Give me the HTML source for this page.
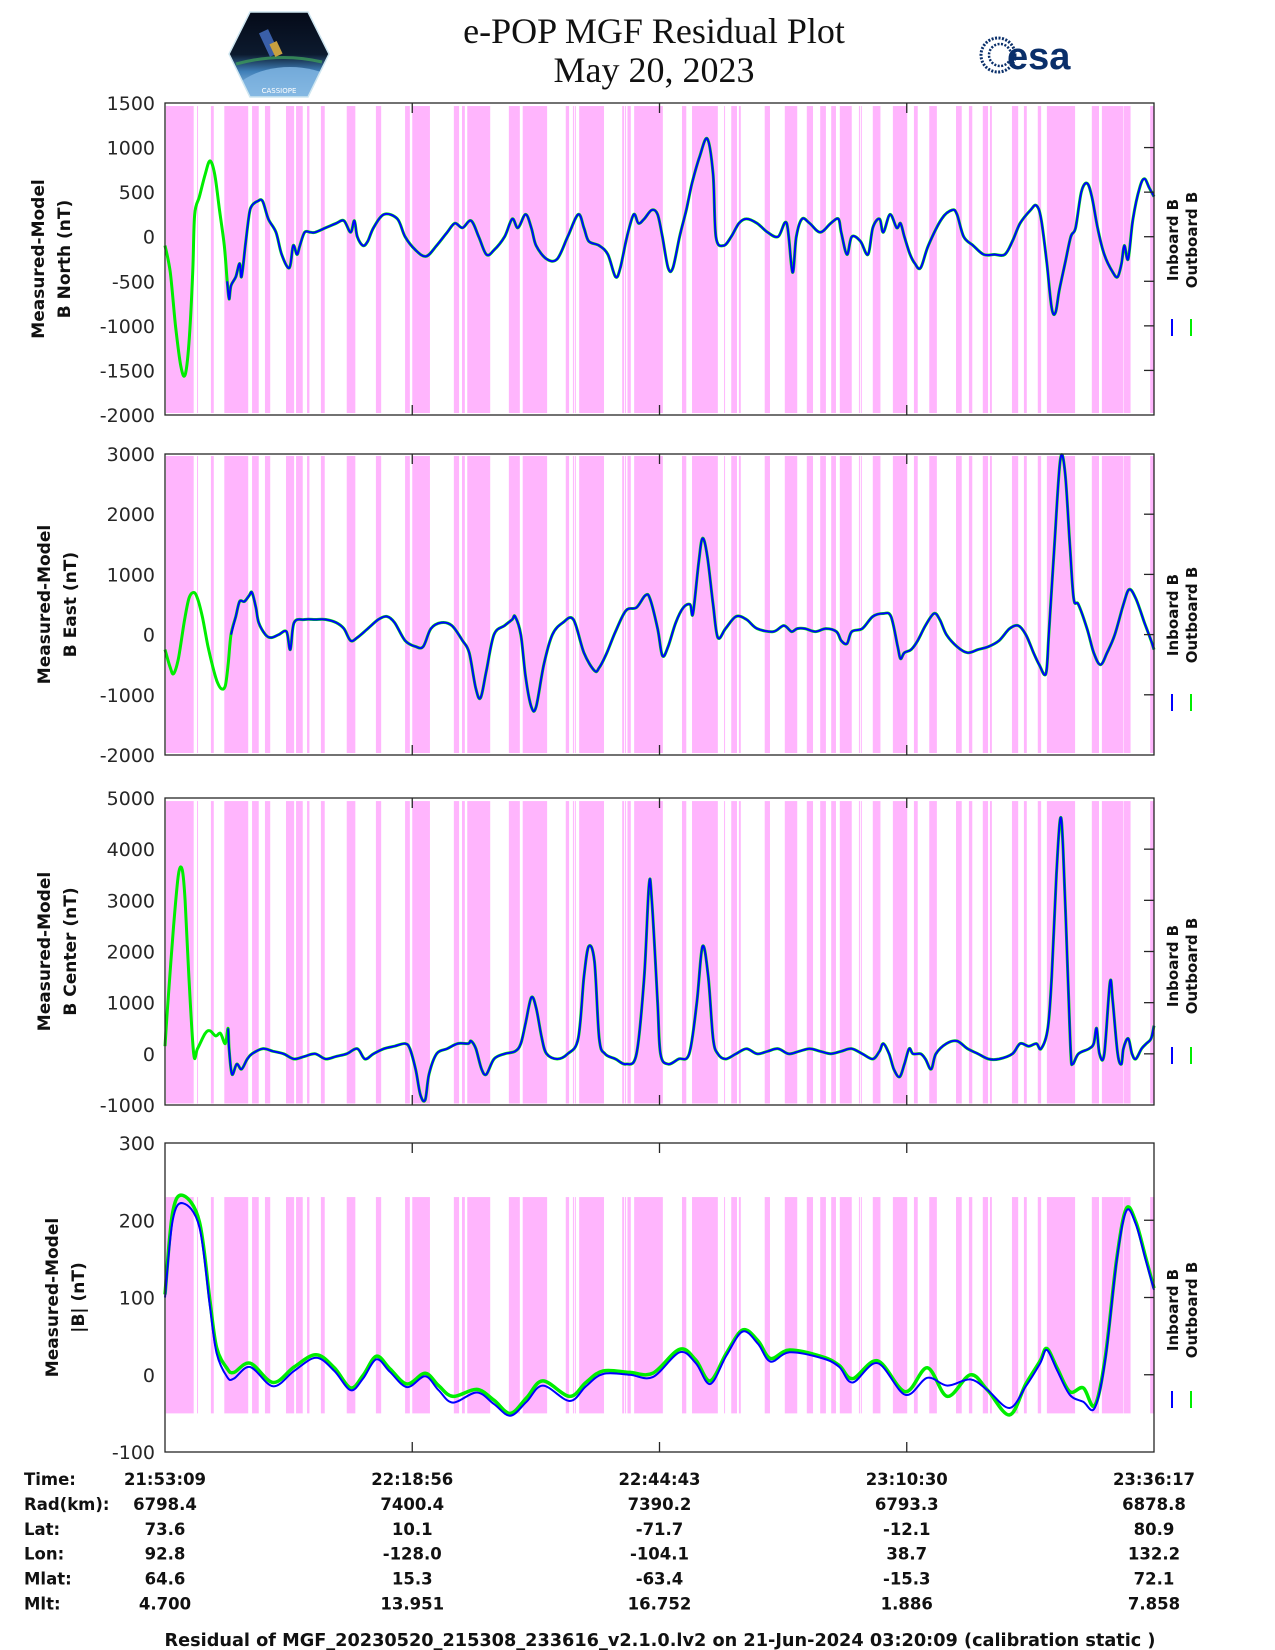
<!DOCTYPE html>
<html><head><meta charset="utf-8"><title>e-POP MGF Residual Plot</title>
<style>
html,body{margin:0;padding:0;background:#fff;}
svg{display:block;}
text{font-family:"DejaVu Sans","Liberation Sans",sans-serif;}
</style></head>
<body>
<svg id="chart" width="1275" height="1650" viewBox="0 0 1275 1650" xmlns="http://www.w3.org/2000/svg">
  <g>
    <g>
      <defs>
        <linearGradient id="sky" x1="0" y1="0" x2="0" y2="1">
          <stop offset="0" stop-color="#050a18"/><stop offset="0.5" stop-color="#0c1a2e"/><stop offset="0.7" stop-color="#3f7fb8"/><stop offset="1" stop-color="#a8d0ee"/>
        </linearGradient>
        <clipPath id="hexclip"><polygon points="250,12 308,12 329,54 308,97 250,97 229,54"/></clipPath>
      </defs>
      <g clip-path="url(#hexclip)">
        <rect x="229" y="12" width="100" height="85" fill="url(#sky)"/>
        <ellipse cx="290" cy="105" rx="62" ry="38" fill="#7fb4e0" opacity="0.85"/>
        <path d="M236,64 Q280,52 322,62" stroke="#3c9a5a" stroke-width="3" fill="none" opacity="0.8"/>
        <rect x="264" y="30" width="10" height="26" fill="#3a5fa8" transform="rotate(-25 269 43)"/>
        <rect x="272" y="42" width="8" height="14" fill="#c8a040" transform="rotate(-25 276 49)"/>
      </g>
      <polygon points="250,12 308,12 329,54 308,97 250,97 229,54" fill="none" stroke="#cfe6f0" stroke-width="1.5"/>
      <text x="279" y="93" font-size="7" fill="#fff" text-anchor="middle">CASSIOPE</text>
    </g>
    <text x="654" y="43" font-size="36" text-anchor="middle" style="font-family:'Liberation Serif',serif" fill="#111">e-POP MGF Residual Plot</text>
    <text x="654" y="82" font-size="36" text-anchor="middle" style="font-family:'Liberation Serif',serif" fill="#111">May 20, 2023</text>
    <g>
      <circle cx="998" cy="55" r="17" fill="none" stroke="#0a2f6a" stroke-width="3" stroke-dasharray="2 1.5"/>
      <circle cx="1000" cy="55" r="11" fill="none" stroke="#0a2f6a" stroke-width="2.5" stroke-dasharray="2 1.5"/>
      <text x="1007" y="69" font-size="38" font-weight="bold" fill="#0a2f6a" style="font-family:'Liberation Sans',sans-serif">esa</text>
    </g>
  </g>
  <g id="panels"></g>
  <g id="footer-info"></g>
</svg>
<script>
// ---- data (time in minutes since 21:53:08) ----
const tickLabels = ["21:53:09","22:18:56","22:44:43","23:10:30","23:36:17"];
const tickMinutes = [0, 25.85, 51.7, 77.55, 103.4];
const radValues = ["6798.4","7400.4","7390.2","6793.3","6878.8"];
const latValues = ["73.6","10.1","-71.7","-12.1","80.9"];
const lonValues = ["92.8","-128.0","-104.1","38.7","132.2"];
const mlatValues = ["64.6","15.3","-63.4","-15.3","72.1"];
const mltValues = ["4.700","13.951","16.752","1.886","7.858"];

const bandStart = [0.1,3.35,4.8,6.2,9.1,10.45,12.65,13.7,14.85,16.3,19.0,22.05,25.1,25.85,30.2,31.05,31.6,35.95,37.4,41.9,42.65,42.85,43.3,47.8,48.1,48.35,49.05,54.05,55.1,58.45,59.2,60.0,62.7,64.8,67.1,68.5,69.65,70.55,72.55,72.75,74.0,76.1,78.3,79.9,82.7,84.05,85.5,86.25,88.55,89.8,91.25,92.2,96.9,97.95,100.25,103.0];
const bandEnd   = [3.0,3.45,5.1,8.7,9.8,11.0,13.5,14.4,15.1,16.7,19.9,22.6,25.6,27.7,30.75,31.35,34.0,37.1,39.95,42.25,42.75,42.95,45.9,48.0,48.2,48.7,52.05,54.5,57.8,58.55,59.8,60.2,63.25,66.1,67.75,69.1,70.15,71.8,72.65,72.85,74.8,77.6,78.7,80.7,83.3,84.4,86.05,86.45,89.2,90.1,91.6,95.15,97.65,100.2,100.95,103.4];

const tNorth = [0,.55,1.1,1.65,2.1,2.5,2.9,3.1,3.6,4.2,4.7,5.2,5.7,6.2,6.5,6.7,6.9,7.4,7.8,8.0,8.4,8.8,9.1,9.7,10.2,10.8,11.6,12.2,13.0,13.4,13.8,14.1,14.6,15.2,15.7,16.8,17.9,18.7,19.4,19.8,20.1,20.7,21.2,21.8,22.9,24.3,25.1,26.2,27.3,28.4,29.5,30.3,31.1,32.0,32.8,33.6,34.4,35.5,36.3,36.9,37.7,38.3,38.8,39.9,41.0,42.1,43.2,43.8,44.3,45.4,46.3,47.1,47.6,48.3,49.0,49.5,50.1,50.9,51.5,52.0,52.6,53.1,53.8,54.5,55.1,55.9,56.7,57.3,57.6,58.4,59.2,60.0,60.8,61.9,63.0,64.1,65.0,65.6,66.0,66.6,67.4,68.5,69.6,70.4,70.7,71.3,71.8,72.7,73.5,74.0,74.7,75.1,75.8,76.5,76.9,77.3,77.9,78.4,79.0,79.8,81.2,82.3,82.8,83.5,84.5,85.6,86.7,87.8,88.6,89.4,90.5,91.1,91.6,92.2,92.7,93.1,93.5,94.1,94.7,95.2,95.8,96.4,96.9,97.5,98.2,99.1,99.6,100.0,100.3,100.7,101.2,101.9,102.4,102.9,103.4];
const inboardNorth = [-100,-400,-1000,-1450,-1550,-1200,-400,250,450,700,850,700,300,-100,-500,-700,-550,-450,-300,-450,-100,250,350,400,400,200,50,-200,-350,-100,-200,-100,50,50,50,100,150,180,50,180,0,-100,-50,100,250,200,0,-150,-220,-100,50,150,100,180,0,-200,-150,0,200,100,250,100,-100,-250,-250,0,250,100,-50,-100,-200,-450,-350,0,250,150,200,300,250,0,-350,-350,0,300,600,900,1100,700,0,-100,0,150,200,150,50,0,150,-400,0,200,150,50,150,200,50,-200,0,-50,-200,100,200,50,250,100,150,0,-200,-300,-350,-100,200,300,250,0,-100,-200,-200,-200,-50,150,300,350,200,-300,-800,-850,-600,-300,0,100,500,600,450,100,-200,-400,-450,-300,-100,-250,200,550,650,550,450];
const outboardNorth = inboardNorth;

const tEast = [0,.55,.9,1.4,2.0,2.5,3.0,3.4,3.9,4.5,5.1,5.5,5.9,6.3,6.6,6.9,7.4,7.8,8.3,8.8,9.1,9.5,9.8,10.5,11.1,11.9,12.7,13.1,13.5,14.6,15.7,16.8,17.9,18.7,19.4,20.1,21.2,22.3,23.2,24.0,25.1,26.2,27.0,27.8,28.9,30.0,31.1,31.8,32.5,33.0,33.6,34.4,35.5,36.3,36.6,37.2,37.7,38.3,38.8,39.6,40.5,41.6,42.7,43.8,44.9,45.4,46.2,47.1,48.2,49.3,50.2,50.7,51.5,52.0,52.6,53.4,54.2,54.9,55.2,55.8,56.2,56.7,57.3,57.8,58.6,59.7,60.8,61.9,63.6,64.7,65.5,66.1,66.9,68.0,69.1,70.2,70.7,71.3,71.8,72.9,74.0,75.1,75.9,76.6,76.9,77.3,78.0,78.7,79.5,80.4,81.0,81.7,82.8,83.9,85.0,86.1,87.2,88.3,89.2,90.0,90.8,91.4,92.1,92.4,93.0,93.6,94.1,94.6,95.0,95.5,96.4,97.1,97.8,98.5,99.3,100.2,100.8,101.5,102.4,103.1,103.4];
const inboardEast = [-250,-550,-650,-400,200,600,700,600,300,-200,-600,-800,-900,-850,-500,0,300,550,550,650,700,450,200,0,-50,0,50,-250,200,250,250,250,200,100,-100,-50,100,250,300,200,-100,-200,-200,100,200,150,-100,-300,-900,-1050,-600,0,150,250,300,0,-700,-1200,-1200,-500,0,200,250,-300,-600,-550,-300,50,400,450,650,600,100,-350,-200,200,450,500,350,1200,1600,1300,500,-50,100,300,250,100,50,150,50,100,100,50,100,50,-100,-150,50,100,300,350,300,-200,-400,-300,-250,-100,150,350,250,0,-200,-300,-250,-200,-100,100,150,0,-300,-500,-650,0,1500,2900,2700,1500,600,500,100,-300,-500,-300,0,500,750,600,200,-100,-250];
const outboardEast = inboardEast;

const tCenter = [0,.3,.9,1.4,1.8,2.1,2.5,3.0,3.4,4.2,4.7,5.3,5.8,6.3,6.6,6.7,7.0,7.5,8.0,8.6,9.1,10.2,11.3,12.4,13.5,14.6,15.7,16.8,17.9,19.0,20.1,20.9,21.8,22.9,24.0,25.1,25.6,26.2,26.7,27.2,27.6,28.4,29.5,30.6,31.7,32.0,32.5,33.1,33.6,34.4,35.5,36.6,37.2,37.7,38.3,38.8,39.4,39.9,41.0,42.1,43.2,43.8,44.3,44.9,45.4,46.0,47.1,48.2,49.3,50.1,50.6,50.9,51.5,51.8,52.6,53.7,54.8,55.6,56.2,56.8,57.3,57.8,58.6,59.7,60.8,61.9,63.0,64.1,65.2,66.3,67.4,68.5,69.6,70.7,71.8,72.9,74.0,74.7,75.1,75.7,76.2,76.8,77.3,77.8,78.2,79.0,79.5,80.1,80.6,81.7,82.8,83.9,85.0,86.1,87.2,88.6,89.4,90.3,91.1,91.6,92.3,92.7,93.2,93.6,93.9,94.4,94.7,94.9,95.5,96.6,97.1,97.4,97.7,98.2,98.8,99.1,99.6,100.0,100.2,100.7,101.1,101.5,102.1,102.6,103.1,103.4];
const inboardCenter = [150,1000,2500,3500,3600,3000,1500,0,100,400,450,350,400,200,500,100,-400,-200,-300,-100,0,100,50,0,-100,-50,0,-100,-50,0,100,-100,0,100,150,200,100,-300,-800,-900,-400,0,100,200,200,250,100,-300,-400,-100,0,50,200,600,1100,900,300,0,-100,0,300,1500,2100,1800,300,0,-100,-200,0,1500,3300,3000,1000,0,-200,-100,0,1000,2100,1500,300,0,-100,0,100,0,50,100,0,50,100,50,0,50,100,0,-100,50,200,0,-300,-450,-200,100,0,0,-100,-300,0,200,250,100,0,-100,-100,0,200,150,200,100,500,1500,3500,4600,4000,1500,0,-200,0,100,200,500,0,0,1400,1000,0,-200,100,300,0,-100,100,200,300,550];
const outboardCenter = inboardCenter;

const tTotal = [0,.8,1.9,3.6,4.7,5.4,6.5,7.2,8.9,11.3,13.5,15.8,17.7,19.4,20.7,22.1,23.5,25.3,27.2,28.6,30.1,32.6,34.4,36.1,37.8,39.5,42.3,44.0,45.8,48.6,51.0,53.8,55.5,57.0,58.7,60.4,62.0,63.3,65.3,68.8,70.5,71.9,74.5,77.4,79.7,81.8,84.2,86.0,88.3,90.0,91.5,92.2,93.3,94.6,96.0,97.2,98.3,99.5,100.5,101.5,102.5,103.4];
const inboardTotal = [100,200,222,191,88,28,-3,-5,10,-15,5,22,5,-20,-5,20,4,-16,-2,-20,-36,-23,-38,-53,-35,-14,-34,-15,1,0,-3,29,15,-12,25,56,40,17,29,21,10,-10,15,-26,-4,-14,-6,-20,-43,-15,15,32,5,-26,-35,-43,19,148,212,195,150,110];
const outboardTotal = [104,210,232,198,95,35,8,3,15,-10,10,26,9,-17,-1,24,8,-12,2,-14,-28,-19,-33,-50,-30,-8,-28,-10,5,3,2,33,19,-8,28,58,44,21,32,23,12,-5,18,-22,9,-28,0,-20,-52,-12,18,34,8,-22,-17,-40,22,150,215,198,153,112];

const yTicksNorth = [1500,1000,500,0,-500,-1000,-1500,-2000];
const yTicksEast = [3000,2000,1000,0,-1000,-2000];
const yTicksCenter = [5000,4000,3000,2000,1000,0,-1000];
const yTicksTotal = [300,200,100,0,-100];

// ---- layout ----
const NS = "http://www.w3.org/2000/svg";
const X0 = 165, X1 = 1154, TMAX = 103.4;
function xScale(m){ return X0 + (m / TMAX) * (X1 - X0); }
function mk(tag, attrs, parent){
  const e = document.createElementNS(NS, tag);
  for (const k in attrs) e.setAttribute(k, attrs[k]);
  if (parent) parent.appendChild(e);
  return e;
}
function smoothPath(pts){
  if (!pts.length) return "";
  let d = "M" + pts[0][0].toFixed(1) + "," + pts[0][1].toFixed(1);
  for (let i = 0; i < pts.length - 1; i++) {
    const p0 = pts[Math.max(0, i - 1)], p1 = pts[i], p2 = pts[i + 1], p3 = pts[Math.min(pts.length - 1, i + 2)];
    const k = 1 / 6;
    const c1x = p1[0] + (p2[0] - p0[0]) * k, c1y = p1[1] + (p2[1] - p0[1]) * k;
    const c2x = p2[0] - (p3[0] - p1[0]) * k, c2y = p2[1] - (p3[1] - p1[1]) * k;
    d += "C" + c1x.toFixed(1) + "," + c1y.toFixed(1) + " " + c2x.toFixed(1) + "," + c2y.toFixed(1) + " " + p2[0].toFixed(1) + "," + p2[1].toFixed(1);
  }
  return d;
}
const panels = [
  {key:"north", top:103, bottom:415, min:-2000, max:1500, ticks:yTicksNorth, t:tNorth, inb:inboardNorth, outb:outboardNorth, blueStart:6.3, bandTop:1466, bandBot:-1978, l1:"Measured-Model", l2:"B North (nT)", lx:44, legY:240, markY:319},
  {key:"east", top:454, bottom:755, min:-2000, max:3000, ticks:yTicksEast, t:tEast, inb:inboardEast, outb:outboardEast, blueStart:6.9, bandTop:2967, bandBot:-1967, l1:"Measured-Model", l2:"B East (nT)", lx:50, legY:615, markY:694},
  {key:"center", top:798, bottom:1105, min:-1000, max:5000, ticks:yTicksCenter, t:tCenter, inb:inboardCenter, outb:outboardCenter, blueStart:6.6, bandTop:4940, bandBot:-970, l1:"Measured-Model", l2:"B Center (nT)", lx:50, legY:966, markY:1047},
  {key:"total", top:1143, bottom:1452, min:-100, max:300, ticks:yTicksTotal, t:tTotal, inb:inboardTotal, outb:outboardTotal, blueStart:-1, bandTop:230, bandBot:-50, l1:"Measured-Model", l2:"|B| (nT)", lx:58, legY:1310, markY:1391}
];
const root = document.getElementById("panels");
panels.forEach(p => {
  const yS = v => p.bottom - (v - p.min) / (p.max - p.min) * (p.bottom - p.top);
  const g = mk("g", {}, root);
  
  
  const bg = mk("g", {}, g);
  
  
  for (let i = 0; i < bandStart.length; i++) {
    const xa = xScale(bandStart[i]), xb = xScale(bandEnd[i]);
    const r = mk("rect", {x:xa, y:yS(p.bandTop), width:Math.max(1, xb - xa), height:yS(p.bandBot) - yS(p.bandTop), fill:"#ffb5fd"}, bg);
    
    
  }
  const n = Math.min(p.t.length, p.inb.length, p.outb.length);
  const gp = [], bp = [];
  for (let i = 0; i < n; i++) {
    gp.push([xScale(p.t[i]), yS(p.outb[i])]);
    if (p.t[i] >= p.blueStart) bp.push([xScale(p.t[i]), yS(p.inb[i])]);
  }
  const gl = mk("path", {d:smoothPath(gp), fill:"none", stroke:"#00ee00", "stroke-width":p.key === "total" ? 3.5 : 3, "stroke-linejoin":"round"}, g);
  
  
  const bl = mk("path", {d:smoothPath(bp), fill:"none", stroke:"#0000ff", "stroke-width":2, "stroke-linejoin":"round"}, g);
  
  
  const fr = mk("rect", {x:X0, y:p.top, width:X1 - X0, height:p.bottom - p.top, fill:"none", stroke:"#262626", "stroke-width":1.3}, g);
  
  
  p.ticks.forEach(v => {
    const y = yS(v);
    const tl = mk("text", {x:155, y:y + 7, "font-size":19, "text-anchor":"end", fill:"#262626"}, g);
    tl.textContent = String(v);
    
    
    if (v !== p.max && v !== p.min) {
      const tk = mk("line", {x1:X1 - 10, x2:X1, y1:y, y2:y, stroke:"#262626", "stroke-width":1.3}, g);
      
      
    }
  });
  tickMinutes.forEach((m, i) => {
    if (i === 0 || i === tickMinutes.length - 1) return;
    const x = xScale(m);
    const t1 = mk("line", {x1:x, x2:x, y1:p.top, y2:p.top + 10, stroke:"#262626", "stroke-width":1.3}, g);
    
    
    const t2 = mk("line", {x1:x, x2:x, y1:p.bottom - 10, y2:p.bottom, stroke:"#262626", "stroke-width":1.3}, g);
    
    
  });
  const cy = (p.top + p.bottom) / 2;
  const yl = mk("text", {transform:"translate(" + p.lx + "," + cy + ") rotate(-90)", "font-size":17, "font-weight":"bold", "text-anchor":"middle", fill:"#111"}, g);
  
  
  const s1 = mk("tspan", {x:0, y:0}, yl); s1.textContent = p.l1;
  const s2 = mk("tspan", {x:0, y:26}, yl); s2.textContent = p.l2;
  const lg = mk("g", {}, g);
  
  
  const li = mk("text", {transform:"translate(1178," + p.legY + ") rotate(-90)", "font-size":15, "font-weight":"bold", "text-anchor":"middle", fill:"#111"}, lg);
  li.textContent = "Inboard B";
  
  
  const lo = mk("text", {transform:"translate(1197," + p.legY + ") rotate(-90)", "font-size":15, "font-weight":"bold", "text-anchor":"middle", fill:"#111"}, lg);
  lo.textContent = "Outboard B";
  
  
  const mb = mk("line", {x1:1172, x2:1172, y1:p.markY, y2:p.markY + 17, stroke:"#0000ff", "stroke-width":2}, lg);
  
  
  const mg = mk("line", {x1:1191, x2:1191, y1:p.markY, y2:p.markY + 17, stroke:"#00ee00", "stroke-width":2}, lg);
  
  
});

const fi = document.getElementById("footer-info");


const rows = [["Time:", tickLabels],["Rad(km):", radValues],["Lat:", latValues],["Lon:", lonValues],["Mlat:", mlatValues],["Mlt:", mltValues]];
rows.forEach((r, ri) => {
  const y = 1485 + ri * 24.9;
  const lab = mk("text", {x:24, y:y, "font-size":16.5, "font-weight":"bold", fill:"#111"}, fi);
  lab.textContent = r[0];
  
  
  r[1].forEach((v, i) => {
    const t = mk("text", {x:xScale(tickMinutes[i]), y:y, "font-size":16.5, "font-weight":"bold", "text-anchor":"middle", fill:"#111"}, fi);
    t.textContent = v;
    
    
  });
});
const ft = mk("text", {x:660, y:1646, "font-size":17.7, "font-weight":"bold", "text-anchor":"middle", fill:"#111"}, fi);
ft.textContent = "Residual of MGF_20230520_215308_233616_v2.1.0.lv2 on 21-Jun-2024 03:20:09 (calibration static )";


</script>
</body></html>
